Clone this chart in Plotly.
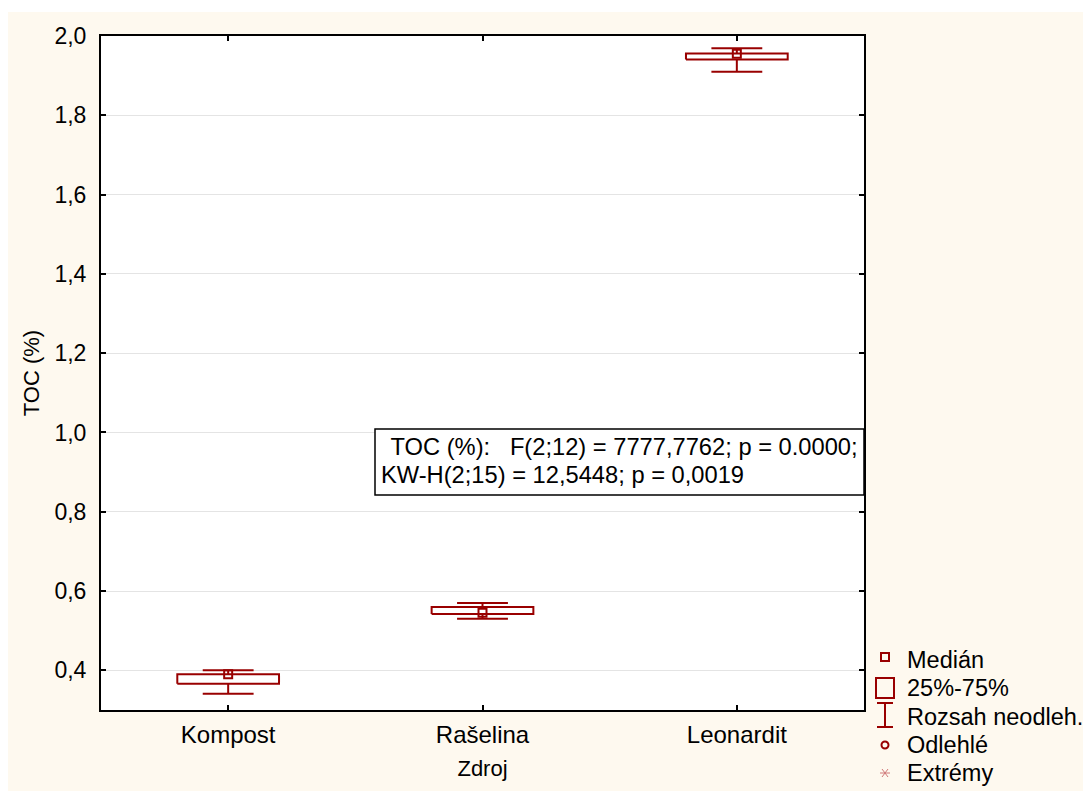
import plotly.graph_objects as go

# ---- data ----
categories = ["Kompost", "Rašelina", "Leonardit"]
medians = [0.390, 0.545, 1.955]
q1 = [0.366, 0.542, 1.941]
q3 = [0.390, 0.560, 1.956]
whisker_low = [0.341, 0.530, 1.910]
whisker_high = [0.400, 0.570, 1.969]

y_ticks = [0.4, 0.6, 0.8, 1.0, 1.2, 1.4, 1.6, 1.8, 2.0]
stat_line1 = " TOC (%):   F(2;12) = 7777,7762; p = 0.0000;"
stat_line2 = "KW-H(2;15) = 12,5448; p = 0,0019"
legend_labels = ["Medián", "25%-75%", "Rozsah neodleh.", "Odlehlé", "Extrémy"]

# ---- style ----
BOX_COLOR = "#990000"
CREAM = "#FEF9EF"
FONT = "Liberation Sans, Arial, sans-serif"
OFF = 8                      # browser body margin
PAGE_W, PAGE_H = 1091, 791
W, H = PAGE_W - OFF, PAGE_H - OFF
PLOT_L, PLOT_R, PLOT_T, PLOT_B = 101, 864, 36, 710   # page pixels
ML = PLOT_L - OFF
MT = PLOT_T - OFF
MR = PAGE_W - PLOT_R
MB = PAGE_H - PLOT_B
BOX_HALF = 0.2
CAP_HALF = 0.1

fig = go.Figure()

for i, cat in enumerate(categories):
    xs, ys = [], []
    # box (25%-75%)
    xs += [i - BOX_HALF, i + BOX_HALF, i + BOX_HALF, i - BOX_HALF, i - BOX_HALF, None]
    ys += [q1[i], q1[i], q3[i], q3[i], q1[i], None]
    # upper whisker
    xs += [i, i, None, i - CAP_HALF, i + CAP_HALF, None]
    ys += [q3[i], whisker_high[i], None, whisker_high[i], whisker_high[i], None]
    # lower whisker
    xs += [i, i, None, i - CAP_HALF, i + CAP_HALF, None]
    ys += [q1[i], whisker_low[i], None, whisker_low[i], whisker_low[i], None]
    fig.add_trace(go.Scatter(x=xs, y=ys, mode="lines",
                             line=dict(color=BOX_COLOR, width=2),
                             hoverinfo="skip", showlegend=False))

fig.add_trace(go.Scatter(x=list(range(len(categories))), y=medians, mode="markers",
                         marker=dict(symbol="square-open", size=8, color=BOX_COLOR,
                                     line=dict(width=2, color=BOX_COLOR)),
                         showlegend=False))

plot_w = PLOT_R - PLOT_L
plot_h = PLOT_B - PLOT_T


def px_x(px):
    return (px - PLOT_L) / plot_w


def px_y(py):
    return (PLOT_B - py) / plot_h


shapes = []
# cream page background
shapes.append(dict(type="rect", xref="paper", yref="paper", layer="below",
                   x0=px_x(7), x1=px_x(PAGE_W + 5), y0=px_y(PAGE_H + 5), y1=px_y(12),
                   fillcolor=CREAM, line=dict(width=0)))
# plot area white background
shapes.append(dict(type="rect", xref="paper", yref="paper", layer="below",
                   x0=0, x1=1, y0=0, y1=1, fillcolor="white", line=dict(width=0)))
# stats box
shapes.append(dict(type="rect", xref="paper", yref="paper",
                   x0=px_x(375), x1=px_x(864), y0=px_y(495), y1=px_y(429),
                   fillcolor="white", line=dict(color="black", width=1.5),
                   layer="above"))

# legend symbols
lx = 885
shapes.append(dict(type="rect", xref="paper", yref="paper",
                   x0=px_x(lx - 4), x1=px_x(lx + 4), y0=px_y(661), y1=px_y(653),
                   line=dict(color=BOX_COLOR, width=2)))
shapes.append(dict(type="rect", xref="paper", yref="paper",
                   x0=px_x(lx - 9), x1=px_x(lx + 9), y0=px_y(698), y1=px_y(678),
                   line=dict(color=BOX_COLOR, width=2)))
for (x0, y0, x1, y1) in [(lx, 703, lx, 727), (lx - 8, 703, lx + 8, 703), (lx - 8, 727, lx + 8, 727)]:
    shapes.append(dict(type="line", xref="paper", yref="paper",
                       x0=px_x(x0), x1=px_x(x1), y0=px_y(y0), y1=px_y(y1),
                       line=dict(color=BOX_COLOR, width=2)))
shapes.append(dict(type="circle", xref="paper", yref="paper",
                   x0=px_x(lx - 3.5), x1=px_x(lx + 3.5), y0=px_y(748.5), y1=px_y(741.5),
                   line=dict(color=BOX_COLOR, width=2)))
for (x0, y0, x1, y1) in [(lx - 5, 773, lx + 5, 773), (lx - 3, 769, lx + 3, 777), (lx - 3, 777, lx + 3, 769)]:
    shapes.append(dict(type="line", xref="paper", yref="paper",
                       x0=px_x(x0), x1=px_x(x1), y0=px_y(y0), y1=px_y(y1),
                       line=dict(color="#D07878", width=1)))

TXT = 23.7
annotations = []
annotations.append(dict(xref="paper", yref="paper", x=px_x(382), y=px_y(447),
                        xanchor="left", yanchor="middle", showarrow=False,
                        text=stat_line1.replace(" ", "&nbsp;"),
                        font=dict(size=TXT, color="black", family=FONT)))
annotations.append(dict(xref="paper", yref="paper", x=px_x(379), y=px_y(475),
                        xanchor="left", yanchor="middle", showarrow=False,
                        text=stat_line2, font=dict(size=TXT, color="black", family=FONT)))
for lbl, ly in zip(legend_labels, [660, 688, 717, 745, 773]):
    annotations.append(dict(xref="paper", yref="paper", x=px_x(905), y=px_y(ly),
                            xanchor="left", yanchor="middle", showarrow=False,
                            text=lbl, font=dict(size=23.5, color="black", family=FONT)))

fig.update_layout(
    width=W, height=H,
    margin=dict(l=ML, r=MR, t=MT, b=MB, pad=0),
    paper_bgcolor="white", plot_bgcolor="rgba(0,0,0,0)",
    separators=", ",
    font=dict(family=FONT, size=TXT, color="black"),
    shapes=shapes, annotations=annotations,
    showlegend=False,
)
fig.update_xaxes(range=[-0.5, 2.5], tickvals=list(range(len(categories))), ticktext=categories,
                 ticks="inside", ticklen=5, tickwidth=2, tickcolor="black",
                 showline=True, linecolor="black", linewidth=2, mirror="ticks",
                 showgrid=False, zeroline=False,
                 title=dict(text="Zdroj", font=dict(size=22), standoff=14),
                 tickfont=dict(size=24), ticklabelstandoff=2)
fig.update_yaxes(range=[0.3, 2.0], tickvals=y_ticks, tickformat=".1f",
                 ticks="inside", ticklen=5, tickwidth=2, tickcolor="black",
                 showline=True, linecolor="black", linewidth=2, mirror="ticks",
                 showgrid=True, gridcolor="#E4E4E4", gridwidth=1, zeroline=False,
                 title=dict(text="TOC (%)", font=dict(size=22), standoff=9),
                 tickfont=dict(size=23), ticklabelstandoff=8)

fig.write_html("out.html")
